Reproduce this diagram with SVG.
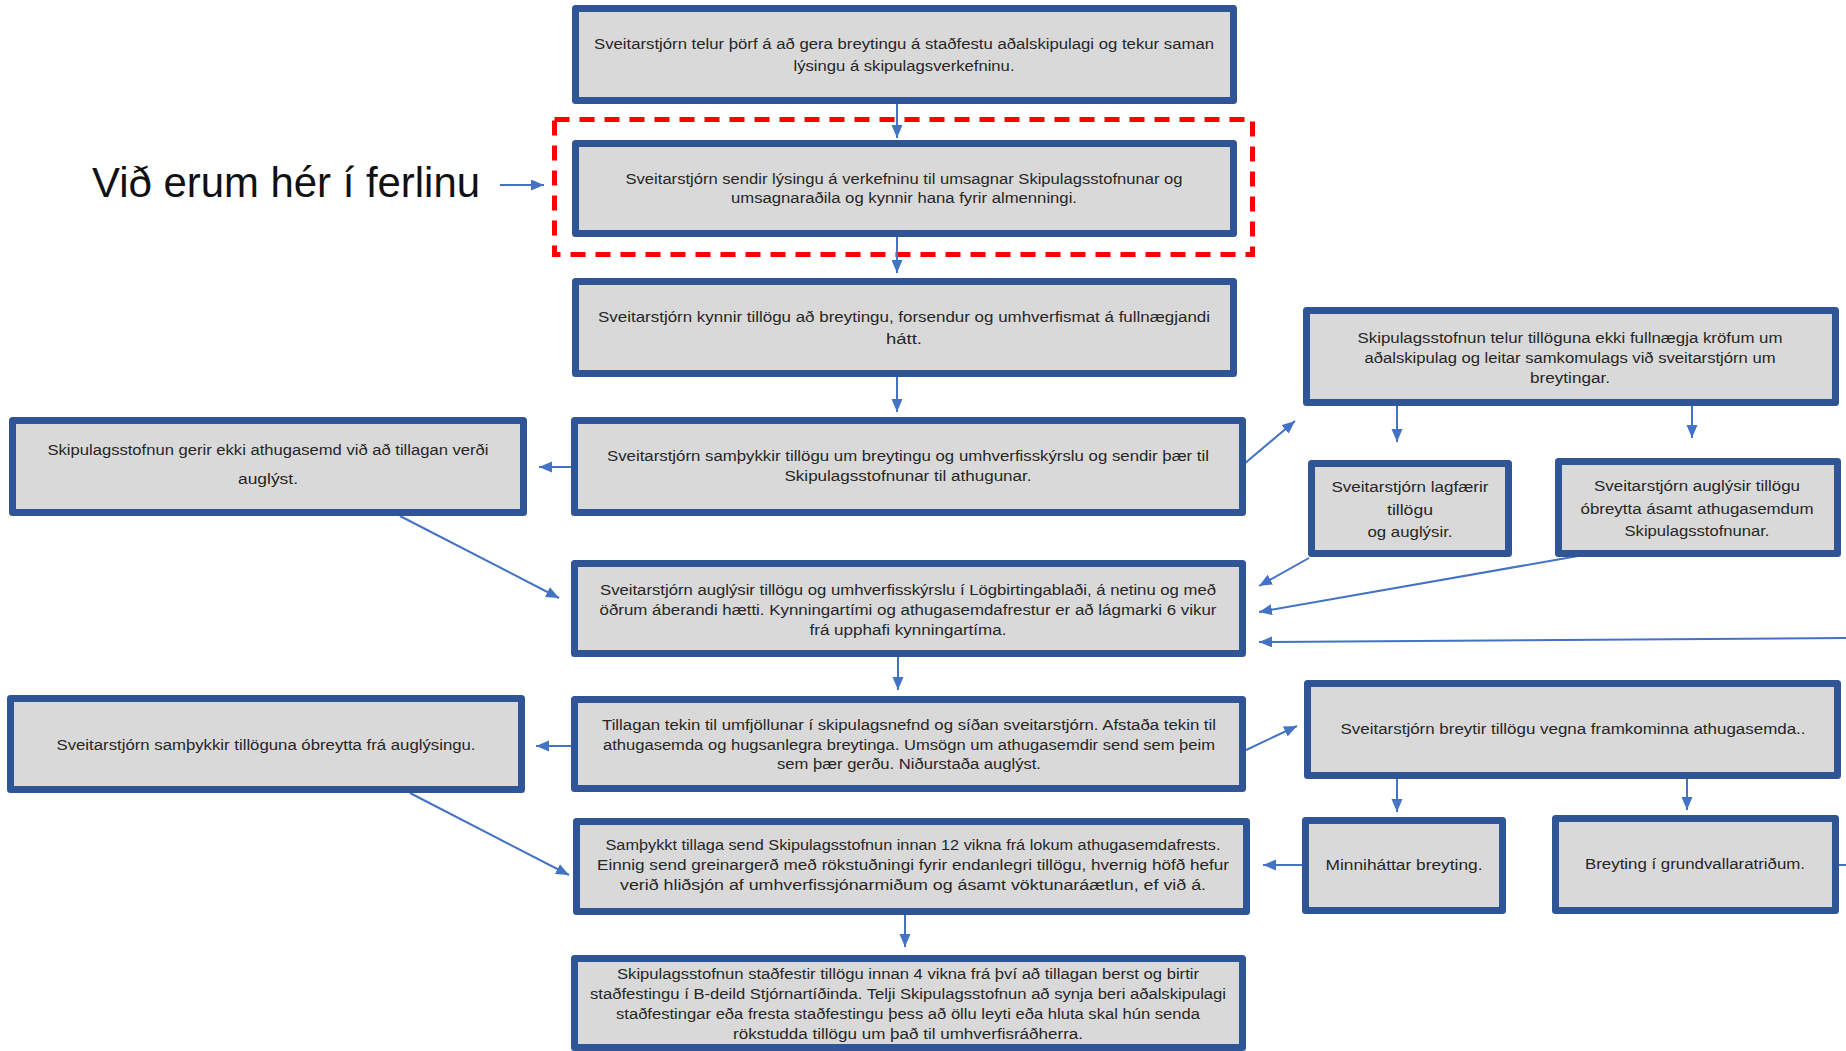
<svg xmlns="http://www.w3.org/2000/svg" width="1846" height="1051" viewBox="0 0 1846 1051">
<style>
.box{fill:#d9d9d9;stroke:#2f5597;stroke-width:7;stroke-linejoin:round}
.t{font-family:"Liberation Sans",Arial,sans-serif;font-size:15.5px;fill:#262626;text-anchor:middle}
.c{stroke:#4472c4;stroke-width:2;fill:none;marker-end:url(#ah)}
.big{font-family:"Liberation Sans",Arial,sans-serif;font-size:42px;fill:#111}
</style>
<defs>
<marker id="ah" markerUnits="userSpaceOnUse" markerWidth="14" markerHeight="12" refX="13" refY="5.5" orient="auto">
<path d="M0,0 L13,5.5 L0,11 z" fill="#4472c4"/>
</marker>
</defs>
<rect width="1846" height="1051" fill="#fff"/>

<g id="label">
<text class="big" x="92" y="197" textLength="388" lengthAdjust="spacingAndGlyphs">Við erum hér í ferlinu</text>
</g>

<g id="highlight">
<rect x="554.5" y="119.5" width="698" height="135" fill="none" stroke="#ff0000" stroke-width="5" stroke-dasharray="15 10"/>
</g>

<g id="connectors">
<line class="c" x1="500" y1="185" x2="544" y2="185"/>
<line class="c" x1="897" y1="104" x2="897" y2="138"/>
<line class="c" x1="897" y1="237" x2="897" y2="273"/>
<line class="c" x1="897" y1="377" x2="897" y2="412"/>
<line class="c" x1="571" y1="467" x2="539" y2="467"/>
<line class="c" x1="400" y1="516" x2="559" y2="598"/>
<line class="c" x1="1244" y1="464" x2="1295" y2="421"/>
<line class="c" x1="1397" y1="406" x2="1397" y2="442"/>
<line class="c" x1="1692" y1="406" x2="1692" y2="438"/>
<line class="c" x1="1309" y1="558" x2="1259" y2="586"/>
<line class="c" x1="1578" y1="556" x2="1259" y2="612"/>
<line class="c" x1="1846" y1="638" x2="1259" y2="642"/>
<line class="c" x1="898" y1="657" x2="898" y2="690"/>
<line class="c" x1="571" y1="746" x2="536" y2="746"/>
<line class="c" x1="1246" y1="750" x2="1297" y2="726"/>
<line class="c" x1="1397" y1="779" x2="1397" y2="812"/>
<line class="c" x1="1687" y1="779" x2="1687" y2="810"/>
<line class="c" x1="410" y1="793" x2="569" y2="875"/>
<line class="c" x1="1302" y1="865" x2="1263" y2="865"/>
<line x1="1839" y1="865" x2="1846" y2="865" stroke="#4472c4" stroke-width="2"/>
<line class="c" x1="905" y1="915" x2="905" y2="947"/>
</g>

<g id="n1">
<rect class="box" x="575.5" y="8.5" width="658" height="92"/>
<text class="t" x="904" y="49" textLength="620" lengthAdjust="spacingAndGlyphs">Sveitarstjórn telur þörf á að gera breytingu á staðfestu aðalskipulagi og tekur saman</text>
<text class="t" x="904" y="71" textLength="221" lengthAdjust="spacingAndGlyphs">lýsingu á skipulagsverkefninu.</text>
</g>

<g id="n2">
<rect class="box" x="575.5" y="143.5" width="658" height="90"/>
<text class="t" x="904" y="184" textLength="557" lengthAdjust="spacingAndGlyphs">Sveitarstjórn sendir lýsingu á verkefninu til umsagnar Skipulagsstofnunar og</text>
<text class="t" x="904" y="203" textLength="346" lengthAdjust="spacingAndGlyphs">umsagnaraðila og kynnir hana fyrir almenningi.</text>
</g>

<g id="n3">
<rect class="box" x="575.5" y="281.5" width="658" height="92"/>
<text class="t" x="904" y="322" textLength="612" lengthAdjust="spacingAndGlyphs">Sveitarstjórn kynnir tillögu að breytingu, forsendur og umhverfismat á fullnægjandi</text>
<text class="t" x="904" y="344" textLength="36" lengthAdjust="spacingAndGlyphs">hátt.</text>
</g>

<g id="n4">
<rect class="box" x="574.5" y="420.5" width="668" height="92"/>
<text class="t" x="908" y="461" textLength="602" lengthAdjust="spacingAndGlyphs">Sveitarstjórn samþykkir tillögu um breytingu og umhverfisskýrslu og sendir þær til</text>
<text class="t" x="908" y="481" textLength="247" lengthAdjust="spacingAndGlyphs">Skipulagsstofnunar til athugunar.</text>
</g>

<g id="n5">
<rect class="box" x="574.5" y="563.5" width="668" height="90"/>
<text class="t" x="908" y="595" textLength="616" lengthAdjust="spacingAndGlyphs">Sveitarstjórn auglýsir tillögu og umhverfisskýrslu í Lögbirtingablaði, á netinu og með</text>
<text class="t" x="908" y="615" textLength="617" lengthAdjust="spacingAndGlyphs">öðrum áberandi hætti. Kynningartími og athugasemdafrestur er að lágmarki 6 vikur</text>
<text class="t" x="908" y="635" textLength="197" lengthAdjust="spacingAndGlyphs">frá upphafi kynningartíma.</text>
</g>

<g id="n6">
<rect class="box" x="574.5" y="699.5" width="668" height="89"/>
<text class="t" x="909" y="730" textLength="614" lengthAdjust="spacingAndGlyphs">Tillagan tekin til umfjöllunar í skipulagsnefnd og síðan sveitarstjórn. Afstaða tekin til</text>
<text class="t" x="909" y="750" textLength="612" lengthAdjust="spacingAndGlyphs">athugasemda og hugsanlegra breytinga. Umsögn um athugasemdir send sem þeim</text>
<text class="t" x="909" y="769" textLength="264" lengthAdjust="spacingAndGlyphs">sem þær gerðu. Niðurstaða auglýst.</text>
</g>

<g id="n7">
<rect class="box" x="576.5" y="821.5" width="670" height="90"/>
<text class="t" x="913" y="850" textLength="615" lengthAdjust="spacingAndGlyphs">Samþykkt tillaga send Skipulagsstofnun innan 12 vikna frá lokum athugasemdafrests.</text>
<text class="t" x="913" y="870" textLength="632" lengthAdjust="spacingAndGlyphs">Einnig send greinargerð með rökstuðningi fyrir endanlegri tillögu, hvernig höfð hefur</text>
<text class="t" x="913" y="890" textLength="586" lengthAdjust="spacingAndGlyphs">verið hliðsjón af umhverfissjónarmiðum og ásamt vöktunaráætlun, ef við á.</text>
</g>

<g id="n8">
<rect class="box" x="574.5" y="958.5" width="668" height="89"/>
<text class="t" x="908" y="979" textLength="582" lengthAdjust="spacingAndGlyphs">Skipulagsstofnun staðfestir tillögu innan 4 vikna frá því að tillagan berst og birtir</text>
<text class="t" x="908" y="999" textLength="636" lengthAdjust="spacingAndGlyphs">staðfestingu í B-deild Stjórnartíðinda. Telji Skipulagsstofnun að synja beri aðalskipulagi</text>
<text class="t" x="908" y="1019" textLength="584" lengthAdjust="spacingAndGlyphs">staðfestingar eða fresta staðfestingu þess að öllu leyti eða hluta skal hún senda</text>
<text class="t" x="908" y="1039" textLength="350" lengthAdjust="spacingAndGlyphs">rökstudda tillögu um það til umhverfisráðherra.</text>
</g>

<g id="l1">
<rect class="box" x="12.5" y="420.5" width="511" height="92"/>
<text class="t" x="268" y="455" textLength="441" lengthAdjust="spacingAndGlyphs">Skipulagsstofnun gerir ekki athugasemd við að tillagan verði</text>
<text class="t" x="268" y="484" textLength="60" lengthAdjust="spacingAndGlyphs">auglýst.</text>
</g>

<g id="l2">
<rect class="box" x="10.5" y="698.5" width="511" height="91"/>
<text class="t" x="266" y="750" textLength="419" lengthAdjust="spacingAndGlyphs">Sveitarstjórn samþykkir tillöguna óbreytta frá auglýsingu.</text>
</g>

<g id="r1">
<rect class="box" x="1306.5" y="310.5" width="529" height="92"/>
<text class="t" x="1570" y="343" textLength="425" lengthAdjust="spacingAndGlyphs">Skipulagsstofnun telur tillöguna ekki fullnægja kröfum um</text>
<text class="t" x="1570" y="363" textLength="411" lengthAdjust="spacingAndGlyphs">aðalskipulag og leitar samkomulags við sveitarstjórn um</text>
<text class="t" x="1570" y="383" textLength="80" lengthAdjust="spacingAndGlyphs">breytingar.</text>
</g>

<g id="r2">
<rect class="box" x="1311.5" y="463.5" width="197" height="90"/>
<text class="t" x="1410" y="492" textLength="157" lengthAdjust="spacingAndGlyphs">Sveitarstjórn lagfærir</text>
<text class="t" x="1410" y="515" textLength="46" lengthAdjust="spacingAndGlyphs">tillögu</text>
<text class="t" x="1410" y="537" textLength="85" lengthAdjust="spacingAndGlyphs">og auglýsir.</text>
</g>

<g id="r3">
<rect class="box" x="1558.5" y="461.5" width="279" height="92"/>
<text class="t" x="1697" y="491" textLength="206" lengthAdjust="spacingAndGlyphs">Sveitarstjórn auglýsir tillögu</text>
<text class="t" x="1697" y="514" textLength="233" lengthAdjust="spacingAndGlyphs">óbreytta ásamt athugasemdum</text>
<text class="t" x="1697" y="536" textLength="145" lengthAdjust="spacingAndGlyphs">Skipulagsstofnunar.</text>
</g>

<g id="r4">
<rect class="box" x="1307.5" y="683.5" width="530" height="92"/>
<text class="t" x="1573" y="734" textLength="465" lengthAdjust="spacingAndGlyphs">Sveitarstjórn breytir tillögu vegna framkominna athugasemda..</text>
</g>

<g id="r5">
<rect class="box" x="1305.5" y="820.5" width="197" height="90"/>
<text class="t" x="1404" y="870" textLength="157" lengthAdjust="spacingAndGlyphs">Minniháttar breyting.</text>
</g>

<g id="r6">
<rect class="box" x="1555.5" y="818.5" width="280" height="92"/>
<text class="t" x="1695" y="869" textLength="220" lengthAdjust="spacingAndGlyphs">Breyting í grundvallaratriðum.</text>
</g>
</svg>
